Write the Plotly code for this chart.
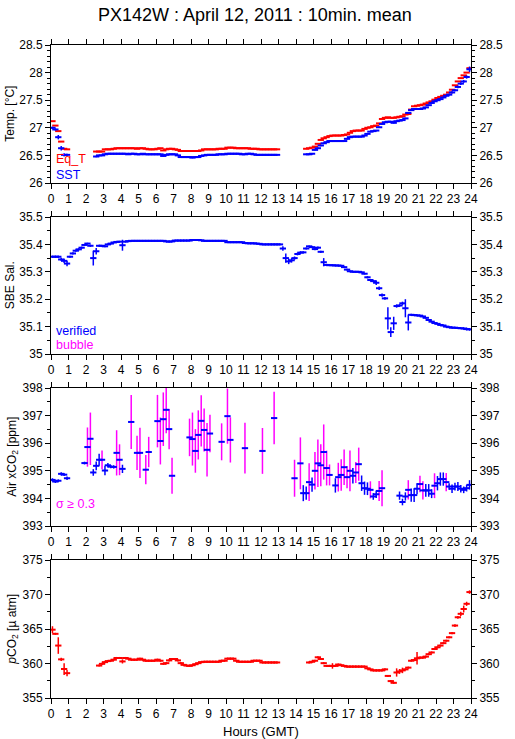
import plotly.graph_objects as go

X = None
SLOTS_PER_HOUR = 6
hours = [(i + 0.5) / SLOTS_PER_HOUR for i in range(24 * SLOTS_PER_HOUR)]

# ---------------- Panel 1: temperatures (degC), one row per hour ----------------
eqt = [
    27.12, 27.04, 26.94, 26.75, 26.62, 26.61,
    X, X, X, X, X, X,
    X, X, X, 26.57, 26.57, 26.57,
    26.61, 26.61, 26.61, 26.62, 26.63, 26.63,
    26.63, 26.63, 26.63, 26.63, 26.63, 26.62,
    26.63, 26.63, 26.62, 26.61, 26.61, 26.61,
    26.62, 26.63, 26.59, 26.61, 26.62, 26.62,
    26.61, 26.60, 26.58, 26.58, 26.58, 26.58,
    26.58, 26.58, 26.58, 26.59, 26.61, 26.61,
    26.61, 26.61, 26.61, 26.62, 26.62, 26.62,
    26.64, 26.64, 26.64, 26.63, 26.63, 26.63,
    26.63, 26.63, 26.62, 26.62, 26.62, 26.61,
    26.61, 26.61, 26.61, 26.61, 26.61, 26.61,
    X, X, X, X, X, X,
    X, X, X, 26.62, 26.63, 26.64,
    26.66, 26.71, 26.78, 26.81, 26.83, 26.85,
    26.86, 26.86, 26.86, 26.86, 26.87, 26.88,
    26.91, 26.94, 26.95, 26.95, 26.95, 26.98,
    27.00, 27.01, 27.03, 27.04, 27.08, 27.16,
    27.18, 27.19, 27.18, 27.18, 27.19, 27.20,
    27.21, 27.24, 27.25, 27.33, 27.39, 27.40,
    27.41, 27.42, 27.44, 27.46, 27.48, 27.51,
    27.54, 27.56, 27.58, 27.60, 27.64, 27.69,
    27.77, 27.84, 27.90, 27.95, 28.00, 28.08,
]
sst = [
    27.00, 26.97, 26.83, 26.63, 26.51, 26.51,
    X, X, X, X, X, X,
    X, X, X, 26.48, 26.50, 26.50,
    26.52, 26.53, 26.53, 26.53, 26.53, 26.53,
    26.53, 26.53, 26.52, 26.53, 26.53, 26.52,
    26.52, 26.53, 26.52, 26.52, 26.52, 26.52,
    26.52, 26.52, 26.49, 26.51, 26.52, 26.52,
    26.52, 26.50, 26.47, 26.47, 26.47, 26.47,
    26.46, 26.47, 26.47, 26.49, 26.50, 26.51,
    26.51, 26.51, 26.51, 26.52, 26.52, 26.52,
    26.53, 26.53, 26.53, 26.53, 26.53, 26.52,
    26.52, 26.53, 26.53, 26.52, 26.51, 26.51,
    26.51, 26.51, 26.51, 26.51, 26.51, 26.51,
    X, X, X, X, X, X,
    X, X, X, 26.52, 26.52, 26.53,
    26.60, 26.63, 26.68, 26.72, 26.74, 26.76,
    26.76, 26.76, 26.76, 26.76, 26.76, 26.80,
    26.83, 26.84, 26.84, 26.84, 26.84, 26.86,
    26.89, 26.93, 26.94, 26.95, 27.01, 27.07,
    27.10, 27.11, 27.11, 27.09, 27.12, 27.13,
    27.14, 27.17, 27.27, 27.32, 27.34, 27.34,
    27.34, 27.35, 27.37, 27.41, 27.45, 27.48,
    27.50, 27.52, 27.55, 27.58, 27.60, 27.64,
    27.68, 27.74, 27.80, 27.84, 27.92, 28.06,
]
sst_err = ([0.02, 0.02, 0.04, 0.04, 0.03, 0.02] + [0.012] * 126
           + [0.012, 0.012, 0.012, 0.015, 0.015, 0.02]
           + [0.02, 0.025, 0.025, 0.025, 0.03, 0.05])

# ---------------- Panel 2: SBE salinity ----------------
sal = [
    35.355, 35.355, 35.355, 35.345, 35.340, 35.330,
    35.355, 35.367, 35.377, 35.382, 35.388, 35.398,
    35.403, 35.395, 35.350, 35.375, 35.395, 35.395,
    35.393, 35.400, 35.403, 35.407, 35.409, 35.410,
    35.397, 35.410, 35.412, 35.413, 35.413, 35.413,
    35.413, 35.413, 35.413, 35.413, 35.413, 35.413,
    35.413, 35.413, 35.413, 35.411, 35.410, 35.411,
    35.414, 35.414, 35.414, 35.414, 35.414, 35.414,
    35.416, 35.416, 35.416, 35.415, 35.413, 35.413,
    35.413, 35.413, 35.413, 35.413, 35.413, 35.413,
    35.408, 35.408, 35.408, 35.408, 35.408, 35.408,
    35.405, 35.404, 35.404, 35.404, 35.403, 35.402,
    35.400, 35.400, 35.400, 35.400, 35.400, 35.400,
    35.400, 35.385, 35.350, 35.338, 35.342, 35.350,
    35.365, 35.370, 35.371, 35.385, 35.393, 35.390,
    35.383, 35.388, 35.373, 35.335, 35.325, 35.324,
    35.324, 35.323, 35.323, 35.322, 35.317, 35.308,
    35.302, 35.300, 35.300, 35.300, 35.298, 35.293,
    35.280, 35.270, 35.266, 35.260, 35.240, 35.215,
    35.203, 35.130, 35.080, 35.112, 35.175, 35.177,
    35.185, 35.167, 35.115, 35.143, 35.142, 35.141,
    35.140, 35.137, 35.132, 35.124, 35.118, 35.113,
    35.110, 35.106, 35.104, 35.100, 35.098, 35.096,
    35.096, 35.095, 35.094, 35.093, 35.091, 35.090,
]
sal_err = [
    .004, .004, .004, .006, .008, .010,
    .004, .004, .004, .004, .004, .003,
    .003, .004, .027, .012, .004, .003,
    .003, .003, .003, .003, .003, .003,
    .020, .003, .003, .003, .003, .003,
    *([.003] * 48),
    .003, .008, .017, .010, .008, .006,
    .005, .005, .004, .004, .003, .003,
    .004, .004, .004, .015, .004, .003,
    .003, .003, .003, .003, .003, .003,
    .003, .003, .003, .003, .003, .003,
    .004, .004, .004, .008, .006, .006,
    .005, .041, .018, .024, .006, .005,
    .006, .033, .029, .004, .003, .003,
    .003, .003, .003, .003, .003, .003,
    .003, .003, .003, .003, .003, .003,
    .003, .003, .003, .004, .005, .005,
]

# ---------------- Panel 3: Air xCO2 (ppm) and its std. dev. ----------------
xco2 = [
    394.67, 394.61, 394.64, 394.89, 394.86, 394.73,
    X, X, X, X, X, 395.28,
    395.86, 396.16, 394.94, 395.18, 395.40, 395.40,
    395.01, 395.20, 395.15, 395.14, 395.65, 395.40,
    395.07, X, X, 396.77, X, 395.65,
    395.65, X, 395.04, 395.68, X, X,
    396.80, 396.08, 396.87, 397.21, 396.51, 394.82,
    X, X, X, X, X, 396.21,
    396.15, 395.72, 396.30, 396.81, 396.48, 395.76,
    396.35, X, X, X, 396.05, X,
    396.98, 396.12, X, X, X, X,
    395.82, X, X, X, X, X,
    395.72, X, X, X, 396.91, X,
    X, X, X, X, X, 394.73,
    X, 395.27, 394.19, 394.19, 394.59, 394.50,
    395.00, 395.27, 395.20, 395.68, 395.10, 394.85,
    X, 394.47, 394.77, 394.85, 395.13, 394.77,
    395.00, 394.82, 394.94, 395.24, 394.55, 394.37,
    394.35, 394.31, 394.07, 394.15, 394.27, 394.37,
    X, X, X, X, X, 394.10,
    393.87, 394.07, 394.31, 394.12, 394.12, 394.35,
    394.52, 394.29, 394.29, 394.29, 394.17, 394.46,
    394.55, 394.70, 394.70, 394.59, 394.43, 394.35,
    394.43, 394.43, 394.35, 394.31, 394.37, 394.49,
]
xco2_sd = [
    0.06, 0.05, 0.05, 0.06, 0.05, 0.06,
    0, 0, 0, 0, 0, 0.05,
    0.71, 0.95, 0.12, 0.16, 0.22, 0.34,
    0.17, 0.08, 0.06, 0.06, 0.82, 0.56,
    0.15, 0, 0, 0.98, 0, 0.62,
    0.91, 0, 0.53, 0.55, 0, 0,
    0.95, 0.85, 0.97, 0.85, 0.73, 0.65,
    0, 0, 0, 0, 0, 0.68,
    0.96, 0.79, 0.89, 0.93, 0.78, 0.97,
    0.68, 0, 0, 0, 0.67, 0,
    1.00, 0.82, 0, 0, 0, 0,
    0.92, 0, 0, 0, 0, 0,
    0.83, 0, 0, 0, 0.95, 0,
    0, 0, 0, 0, 0, 0.67,
    0, 0.94, 0.29, 0.24, 0.68, 0.26,
    0.68, 0.86, 0.76, 1.00, 0.63, 0.38,
    0, 0.26, 0.52, 0.57, 0.64, 0.40,
    0.74, 0.28, 0.38, 0.60, 0.28, 0.24,
    0.23, 0.31, 0.12, 0.14, 0.36, 0.65,
    0, 0, 0, 0, 0, 0.15,
    0.12, 0.15, 0.35, 0.24, 0.25, 0.20,
    0.30, 0.33, 0.23, 0.23, 0.16, 0.45,
    0.26, 0.24, 0.24, 0.33, 0.12, 0.15,
    0.14, 0.16, 0.14, 0.12, 0.12, 0.17,
]
SIGMA_LIMIT = 0.3

# ---------------- Panel 4: pCO2 (uatm) ----------------
pco2 = [
    364.90, 364.30, 362.60, 360.60, 359.20, 358.60,
    X, X, X, X, X, X,
    X, X, X, X, 359.70, 359.95,
    360.20, 360.35, 360.40, 360.55, 360.80, 360.80,
    360.30, 360.80, 360.70, 360.55, 360.55, 360.55,
    360.70, 360.55, 360.40, 360.40, 360.40, 360.40,
    360.55, 360.40, 359.95, 360.05, 360.45, 360.65,
    360.65, 360.45, 360.05, 359.80, 359.70, 359.65,
    359.75, 359.90, 360.05, 360.20, 360.25, 360.25,
    360.25, 360.25, 360.25, 360.25, 360.40, 360.40,
    360.70, 360.70, 360.70, 360.40, 360.25, 360.25,
    360.25, 360.25, 360.25, 360.40, 360.40, 360.40,
    360.15, 360.15, 360.15, 360.15, 360.15, 360.15,
    X, X, X, X, X, X,
    X, X, X, X, 360.15, 360.25,
    360.40, 360.90, 360.65, 360.05, 359.65, 359.65,
    359.65, 359.65, 359.85, 359.75, 359.65, 359.55,
    359.55, 359.55, 359.55, 359.55, 359.55, 359.55,
    359.30, 359.15, 359.00, 359.00, 359.00, 359.00,
    359.15, 358.20, 357.45, 357.20, 358.70, 358.85,
    359.00, 359.15, 359.40, 360.40, 360.50, 360.75,
    360.85, 360.85, 361.00, 361.35, 361.60, 362.10,
    362.35, 362.60, 362.95, 363.30, 363.80, 364.40,
    365.50, 366.70, 367.20, 367.90, 368.65, 370.35,
]
pco2_err = [
    0.50, 0.15, 1.20, 0.25, 0.85, 0.45,
    *([0.15] * 18),
    0.30, 0.15, 0.15, 0.15, 0.15, 0.15,
    *([0.15] * 63),
    0.15, 0.15, 0.15, 0.40, 0.15, 0.15,
    *([0.15] * 18),
    0.15, 0.60, 0.35, 0.40, 0.15, 0.15,
    0.15, 0.15, 0.90, 0.15, 0.15, 0.15,
    *([0.15] * 6),
    0.15, 0.15, 0.15, 0.20, 0.20, 0.30,
    0.50, 0.30, 0.25, 0.25, 0.30, 1.10,
]

panel_ranges = [[26, 28.5], [35, 35.5], [393, 398], [355, 375]]
panel_dticks = [0.5, 0.1, 1, 5]
panel_minor = [0.1, 0.05, 0.5, 2.5]
panel_titles = ["Temp. [°C]", "SBE Sal.", "Air xCO<sub>2</sub> [ppm]",
                "<i>p</i>CO<sub>2</sub> [µ atm]"]
hour_ticks = list(range(0, 25))

RED, BLUE, MAG = "#ff0000", "#0000ff", "#ff00ff"
FONT = "Liberation Sans, Arial, Helvetica, sans-serif"

# panel pixel extents (top, bottom) in a 739 px tall page, plot area 45..698
H_TOP, H_BOT = 45, 698
panel_px = [(45, 183), (217, 354), (388, 526), (560, 698)]


def frac(px):
    return (H_BOT - px) / (H_BOT - H_TOP)


domains = [[frac(b), frac(t)] for t, b in panel_px]

fig = go.Figure()


def ax_names(k):
    xs = "x" if k == 1 else f"x{k}"
    ys = "y" if k == 1 else f"y{k}"
    return xs, ys


def add(y, color, k, yerr=None, errcolor=None, dash=True):
    """10-minute means drawn as a horizontal dash (marker) plus a vertical std bar."""
    xs, ys = ax_names(k)
    if dash:
        marker = dict(symbol="line-ew", size=4.5, color=color,
                      line=dict(width=2, color=color))
    else:
        marker = dict(size=1, color=color, opacity=0)
    tr = dict(x=hours, y=y, mode="markers", marker=marker, cliponaxis=True,
              xaxis=xs, yaxis=ys, hoverinfo="skip", showlegend=False)
    if yerr is not None:
        tr["error_y"] = dict(type="data", array=yerr, width=0, thickness=1.5,
                             color=errcolor or color)
    fig.add_trace(go.Scatter(**tr))


# Panel 1
add(eqt, RED, 1)
add(sst, BLUE, 1, yerr=sst_err)
# Panel 2
add(sal, BLUE, 2, yerr=sal_err)
# Panel 3
xco2_hi = [v if (v is not None and s >= SIGMA_LIMIT) else None for v, s in zip(xco2, xco2_sd)]
xco2_lo = [v if (v is not None and s < SIGMA_LIMIT) else None for v, s in zip(xco2, xco2_sd)]
add(xco2_hi, MAG, 3, yerr=xco2_sd, errcolor=MAG, dash=False)
add(xco2_lo, BLUE, 3, yerr=xco2_sd)
add(xco2_hi, BLUE, 3)
# Panel 4
add(pco2, RED, 4, yerr=pco2_err)

# invisible copies on right-hand axes so they are drawn
for k, series in zip(range(1, 5), [sst, sal, xco2, pco2]):
    xs, _ = ax_names(k)
    fig.add_trace(go.Scatter(x=hours, y=series, mode="markers",
                             marker=dict(size=1, opacity=0), xaxis=xs,
                             yaxis=f"y{k + 4}", hoverinfo="skip", showlegend=False))

tickfont = dict(family=FONT, size=12, color="black")
layout = dict(
    width=515, height=739,
    margin=dict(l=51, r=37, t=45, b=41),
    paper_bgcolor="white", plot_bgcolor="white",
    font=dict(family=FONT, size=12, color="black"),
    showlegend=False,
)
for k in range(1, 5):
    xs, ys = ax_names(k)
    xkey = "xaxis" if k == 1 else f"xaxis{k}"
    ykey = "yaxis" if k == 1 else f"yaxis{k}"
    layout[xkey] = dict(
        domain=[0, 1], range=[0, 24], tickmode="array", tickvals=hour_ticks,
        ticks="outside", ticklen=5, tickwidth=1, tickcolor="black",
        showline=True, linecolor="black", linewidth=1, mirror="ticks",
        showgrid=False, zeroline=False, anchor=ys, tickfont=tickfont,
        fixedrange=True,
    )
    common = dict(
        domain=domains[k - 1], range=panel_ranges[k - 1], dtick=panel_dticks[k - 1],
        tick0=panel_ranges[k - 1][0], ticks="outside", ticklen=5, tickwidth=1,
        tickcolor="black",
        minor=dict(dtick=panel_minor[k - 1], tick0=panel_ranges[k - 1][0],
                   ticks="outside", ticklen=3, tickcolor="black", showgrid=False),
        showline=True, linecolor="black", linewidth=1, showgrid=False,
        zeroline=False, tickfont=tickfont, fixedrange=True,
    )
    layout[ykey] = dict(anchor=xs, side="left", **common)
    layout[f"yaxis{k + 4}"] = dict(anchor=xs, overlaying=ys, side="right", **common)

fig.update_layout(**layout)

W = 515 - 51 - 37
def px_x(px):
    return (px - 51) / W


ann = [
    dict(text="PX142W : April 12, 2011 : 10min. mean", x=px_x(258), y=frac(15),
         xref="paper", yref="paper", xanchor="center", yanchor="middle",
         showarrow=False, font=dict(family=FONT, size=18, color="black")),
    dict(text="Hours (GMT)", x=px_x(264), y=frac(731), xref="paper", yref="paper",
         xanchor="center", yanchor="middle", showarrow=False,
         font=dict(family=FONT, size=13, color="black")),
]
title_x = [9, 9, 12, 12]
for k in range(4):
    t, b = panel_px[k]
    ann.append(dict(text=panel_titles[k], x=px_x(title_x[k]), y=frac((t + b) / 2),
                    xref="paper", yref="paper", xanchor="center", yanchor="middle",
                    textangle=-90, showarrow=False,
                    font=dict(family=FONT, size=12, color="black")))

legend_items = [
    ("Eq_T", RED, 159), ("SST", BLUE, 175),
    ("verified", BLUE, 331), ("bubble", MAG, 345),
    ("σ ≥ 0.3", MAG, 504),
]
for txt, col, ypx in legend_items:
    ann.append(dict(text=txt, x=px_x(54), y=frac(ypx), xref="paper", yref="paper",
                    xanchor="left", yanchor="middle", showarrow=False,
                    font=dict(family=FONT, size=12.5, color=col)))
fig.update_layout(annotations=ann)

fig.write_html(
    "out.html",
    config={"displayModeBar": False, "staticPlot": True},
    post_script="document.body.style.margin='0';document.body.style.overflow='hidden';",
)
